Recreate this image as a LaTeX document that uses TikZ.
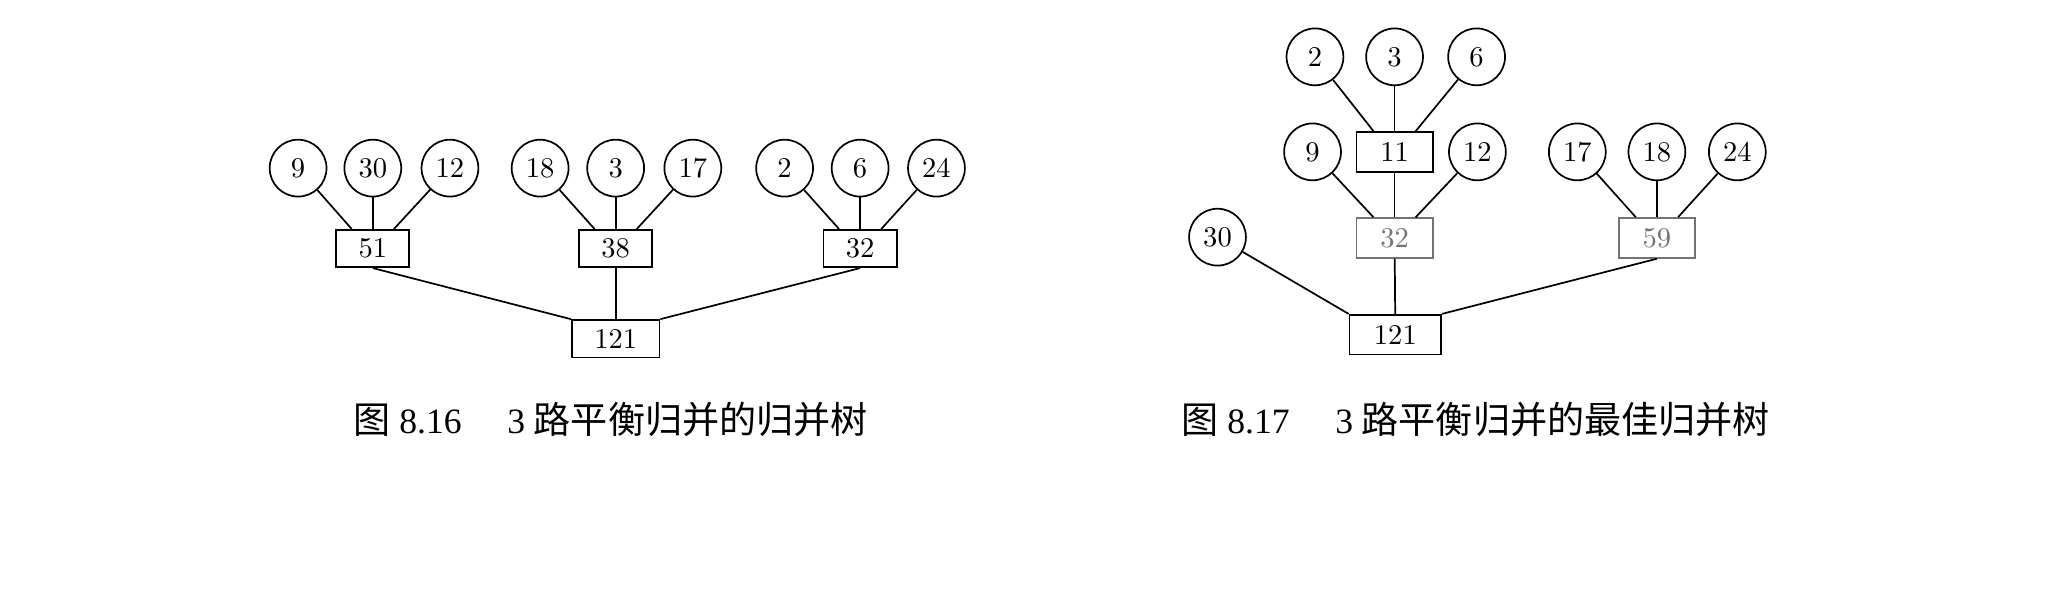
\documentclass[tikz,border=0pt]{standalone}
\usepackage{fontspec}
\newfontfamily\cjk{Noto Sans CJK SC}
\newfontfamily\capnum[Scale=0.96]{Liberation Serif}
\begin{document}
\begin{tikzpicture}[
		leaf/.style={circle,draw,line width=0.6pt,inner sep=0pt,minimum size=0.7cm},
		mbox/.style={rectangle,draw,line width=0.6pt,inner sep=0pt,minimum width=0.9cm,minimum height=0.46cm},
		rbox/.style={mbox,minimum width=1.08cm},
		faint/.style={draw=black!55,text=black!55},
		edge/.style={line width=0.6pt},
		caption/.style={font=\fontsize{13}{15}\selectfont}]
			\useasboundingbox (0,0) rectangle (25.4,7.47);
			% 3-way balanced merge
			\node [leaf] (n9) at (3.67,5.40) {9};
			\node [leaf] (n30) at (4.59,5.40) {30};
			\node [leaf] (n12) at (5.54,5.40) {12};
			\node [leaf] (n18) at (6.65,5.40) {18};
			\node [leaf] (n3) at (7.58,5.40) {3};
			\node [leaf] (n17) at (8.53,5.40) {17};
			\node [leaf] (n2) at (9.66,5.40) {2};
			\node [leaf] (n6) at (10.59,5.40) {6};
			\node [leaf] (n24) at (11.53,5.40) {24};
			\node [mbox] (b51) at (4.59,4.41) {51};
			\node [mbox] (b38) at (7.58,4.41) {38};
			\node [mbox] (b32) at (10.59,4.41) {32};
			\node [rbox] (r1) at (7.58,3.30) {121};
			\draw [edge] (n9)-- ([xshift=-0.26cm]b51.north);
			\draw [edge] (n30)-- (b51);
			\draw [edge] (n12)-- ([xshift=0.26cm]b51.north);
			\draw [edge] (n18)-- ([xshift=-0.26cm]b38.north);
			\draw [edge] (n3)-- (b38);
			\draw [edge] (n17)-- ([xshift=0.26cm]b38.north);
			\draw [edge] (n2)-- ([xshift=-0.26cm]b32.north);
			\draw [edge] (n6)-- (b32);
			\draw [edge] (n24)-- ([xshift=0.26cm]b32.north);
			\draw [edge] (b51.south)-- (r1.north west);
			\draw [edge] (b38)-- (r1);
			\draw [edge] (b32.south)-- (r1.north east);
			\node [caption] (cap1) at (7.52,2.30) {{\cjk 图}\hspace{3pt}{\capnum 8.16}\hspace{16pt}{\capnum 3}\hspace{3pt}{\cjk 路平衡归并的归并树}};
			% best merge tree
			\node [leaf] (m2) at (16.19,6.77) {2};
			\node [leaf] (m3) at (17.17,6.77) {3};
			\node [leaf] (m6) at (18.18,6.77) {6};
			\node [leaf] (m9) at (16.16,5.60) {9};
			\node [mbox,minimum width=0.94cm,minimum height=0.49cm] (e11) at (17.17,5.60) {11};
			\node [leaf] (m12) at (18.19,5.60) {12};
			\node [leaf] (m17) at (19.42,5.60) {17};
			\node [leaf] (m18) at (20.40,5.60) {18};
			\node [leaf] (m24) at (21.39,5.60) {24};
			\node [leaf] (m30) at (14.99,4.55) {30};
			\node [mbox,faint,minimum width=0.94cm,minimum height=0.49cm] (e32) at (17.17,4.54) {32};
			\node [mbox,faint,minimum width=0.94cm,minimum height=0.49cm] (e59) at (20.40,4.54) {59};
			\node [rbox,minimum width=1.13cm,minimum height=0.49cm] (r2) at (17.18,3.35) {121};
			\draw [edge] (m2)-- ([xshift=-0.26cm]e11.north);
			\draw [edge] (m3)-- (e11);
			\draw [edge] (m6)-- ([xshift=0.26cm]e11.north);
			\draw [edge] (m9)-- ([xshift=-0.26cm]e32.north);
			\draw [edge] (e11)-- (e32);
			\draw [edge] (m12)-- ([xshift=0.26cm]e32.north);
			\draw [edge] (m17)-- ([xshift=-0.26cm]e59.north);
			\draw [edge] (m18)-- (e59);
			\draw [edge] (m24)-- ([xshift=0.26cm]e59.north);
			\draw [edge] (m30)-- (r2.north west);
			\draw [edge] (e32)-- (r2);
			\draw [edge] (e59.south)-- (r2.north east);
			\node [caption] (cap2) at (18.17,2.30) {{\cjk 图}\hspace{3pt}{\capnum 8.17}\hspace{16pt}{\capnum 3}\hspace{3pt}{\cjk 路平衡归并的最佳归并树}};
		\end{tikzpicture}
\end{document}
